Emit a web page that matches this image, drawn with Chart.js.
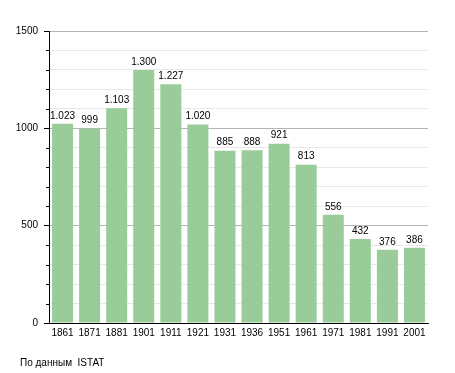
<!DOCTYPE html>
<html>
<head>
  <title>Popolazione</title>
  <style>
    body {
      margin: 0;
      font-family: "Liberation Sans", Arial, sans-serif;
      background: #fff;
    }
    #wrap {
      position: relative;
      width: 455px;
      height: 373px;
    }
    #source {
      position: absolute;
      left: 20px;
      top: 357px;
      font-size: 10px;
      color: #000;
      white-space: pre;
    }
  </style>
</head>
<body>
  <div id="wrap">
    <canvas id="popChart" width="455" height="373"></canvas>
    <div id="source">По данным  ISTAT</div>
  </div>

  <script src="https://cdn.jsdelivr.net/npm/chart.js"></script>
  <script>
    const years = ['1861', '1871', '1881', '1901', '1911', '1921', '1931', '1936', '1951', '1961', '1971', '1981', '1991', '2001'];
    const population = [1023, 999, 1103, 1300, 1227, 1020, 885, 888, 921, 813, 556, 432, 376, 386];
    const yTicks = [0, 500, 1000, 1500];

    const ctx = document.getElementById('popChart').getContext('2d');
    const FONT = '"Liberation Sans", Arial, sans-serif';

    function formatValue(v) {
      return String(v).replace(/\B(?=(\d{3})+(?!\d))/g, '.');
    }

    // value labels above the bars + short minor ticks on the y axis
    const extras = {
      id: 'extras',
      afterDraw(chart) {
        const c = chart.ctx;
        const yScale = chart.scales.y;
        c.save();
        c.strokeStyle = '#000';
        c.lineWidth = 1;
        yScale.ticks.forEach(t => {
          if (yTicks.includes(t.value)) return;
          const py = Math.round(yScale.getPixelForValue(t.value)) + 0.5;
          c.beginPath();
          c.moveTo(chart.chartArea.left - 3, py);
          c.lineTo(chart.chartArea.left, py);
          c.stroke();
        });
        c.fillStyle = '#000';
        c.font = '10px ' + FONT;
        c.textAlign = 'center';
        c.textBaseline = 'bottom';
        chart.getDatasetMeta(0).data.forEach((bar, i) => {
          c.fillText(formatValue(population[i]), bar.x, bar.y - 3);
        });
        c.restore();
      }
    };

    new Chart(ctx, {
      type: 'bar',
      data: {
        labels: years,
        datasets: [{
          data: population,
          backgroundColor: '#99cc99',
          borderWidth: 0,
          barPercentage: 0.776,
          categoryPercentage: 1
        }]
      },
      options: {
        responsive: false,
        animation: false,
        layout: {
          padding: { top: 31, right: 27, left: 0, bottom: 0 }
        },
        plugins: {
          legend: { display: false },
          tooltip: { enabled: false }
        },
        scales: {
          x: {
            grid: { display: false, drawTicks: false },
            border: { display: true, color: '#000', width: 1 },
            ticks: {
              color: '#000',
              font: { family: FONT, size: 10 },
              padding: 4,
              maxRotation: 0,
              autoSkip: false
            },
            afterFit(scale) { scale.height = 50; }
          },
          y: {
            min: 0,
            max: 1500,
            border: { display: true, color: '#000', width: 1 },
            grid: {
              color: c => (yTicks.includes(c.tick.value) ? '#b4b4b4' : '#e8e8e8'),
              tickColor: c => (yTicks.includes(c.tick.value) ? '#000' : 'rgba(0,0,0,0)'),
              tickLength: 5
            },
            ticks: {
              stepSize: 100,
              color: '#000',
              font: { family: FONT, size: 10 },
              padding: 6,
              autoSkip: false,
              callback: v => (yTicks.includes(v) ? String(v) : '')
            },
            afterFit(scale) { scale.width = 49; }
          }
        }
      },
      plugins: [extras]
    });
  </script>
</body>
</html>
